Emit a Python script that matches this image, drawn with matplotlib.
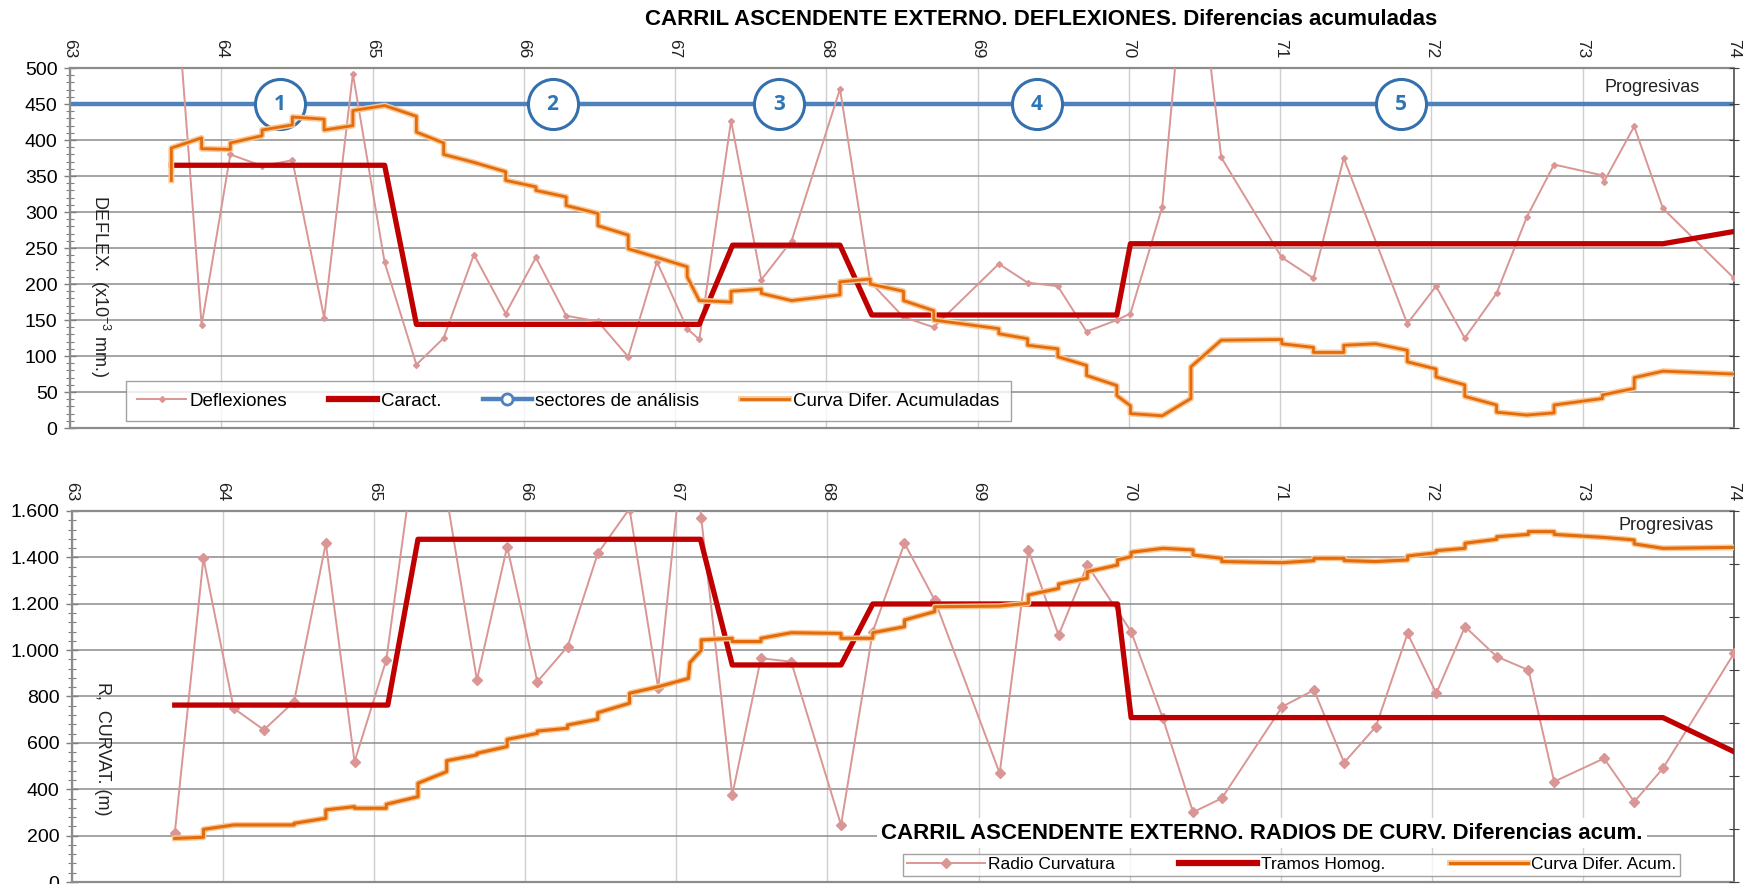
import matplotlib
matplotlib.use("Agg")
import matplotlib.pyplot as plt
import matplotlib.patheffects as pe
from matplotlib.lines import Line2D
from matplotlib.ticker import AutoMinorLocator, FuncFormatter

plt.rcParams['font.family'] = ['Liberation Sans', 'DejaVu Sans']
plt.rcParams['mathtext.fontset'] = 'custom'
plt.rcParams['mathtext.rm'] = 'Liberation Sans'

# ---------------- data: deflexiones (upper chart) ----------------
defl_km = [63.67, 63.87, 64.06, 64.27, 64.47, 64.68, 64.87, 65.08, 65.29, 65.47,
           65.67, 65.88, 66.08, 66.28, 66.49, 66.69, 66.88, 67.08, 67.16, 67.37,
           67.57, 67.77, 68.09, 68.29, 68.51, 68.71, 69.14, 69.33, 69.53, 69.72,
           69.92, 70.01, 70.22, 70.41, 70.61, 71.01, 71.22, 71.42, 71.84, 72.03,
           72.22, 72.43, 72.63, 72.81, 73.13, 73.14, 73.34, 73.53, 74.0]
defl_val = [700, 143, 380, 364, 372, 153, 492, 230, 88, 125,
            241, 159, 237, 156, 148, 99, 231, 138, 123, 427,
            206, 260, 471, 203, 154, 140, 228, 202, 197, 134,
            150, 159, 307, 740, 376, 237, 208, 375, 145, 197,
            125, 187, 293, 366, 351, 342, 419, 305, 208]

caract_km = [63.67, 65.08, 65.29, 67.16, 67.38, 68.09, 68.30, 69.92, 70.01, 73.53, 74.0]
caract_val = [365, 365, 144, 144, 254, 254, 157, 157, 256, 256, 273]

cda_km = [63.67, 63.67, 63.87, 63.87, 64.06, 64.06, 64.27, 64.27, 64.47, 64.47,
          64.68, 64.68, 64.87, 64.87, 65.08, 65.29, 65.29, 65.47, 65.47, 65.67,
          65.88, 65.88, 66.08, 66.08, 66.28, 66.28, 66.49, 66.49, 66.69, 66.69,
          66.88, 67.08, 67.08, 67.16, 67.37, 67.37, 67.57, 67.57, 67.77, 68.09,
          68.09, 68.29, 68.29, 68.51, 68.51, 68.71, 68.71, 69.14, 69.14, 69.33,
          69.33, 69.53, 69.53, 69.72, 69.72, 69.92, 69.92, 70.01, 70.01, 70.22,
          70.41, 70.41, 70.61, 71.01, 71.01, 71.22, 71.22, 71.42, 71.42, 71.63,
          71.84, 71.84, 72.03, 72.03, 72.22, 72.22, 72.43, 72.43, 72.63, 72.81,
          72.81, 73.13, 73.13, 73.34, 73.34, 73.53, 74.0]
cda_val = [344, 389, 403, 388, 387, 396, 406, 414, 421, 432,
           429, 414, 420, 441, 448, 433, 411, 396, 380, 369,
           356, 344, 335, 330, 321, 309, 298, 281, 268, 249,
           237, 224, 210, 177, 175, 190, 193, 187, 177, 185,
           203, 207, 200, 190, 177, 163, 150, 138, 131, 124,
           115, 110, 99, 87, 73, 59, 45, 31, 20, 17,
           41, 85, 122, 123, 117, 112, 105, 105, 115, 117,
           108, 92, 82, 71, 60, 44, 32, 22, 18, 21,
           32, 41, 46, 55, 70, 79, 75]

sector_km = [64.39, 66.19, 67.69, 69.39, 71.80]
sector_lbl = ['1', '2', '3', '4', '5']
sector_level = 450

# ---------------- data: radios de curvatura (lower chart) ----------------
rad_km = [63.68, 63.87, 64.07, 64.27, 64.47, 64.68, 64.87, 65.08, 65.29, 65.47,
          65.68, 65.88, 66.08, 66.28, 66.48, 66.69, 66.88, 67.08, 67.165, 67.37,
          67.56, 67.76, 68.09, 68.30, 68.51, 68.71, 69.14, 69.33, 69.53, 69.72,
          70.01, 70.22, 70.42, 70.61, 71.01, 71.22, 71.42, 71.63, 71.84, 72.03,
          72.22, 72.43, 72.64, 72.81, 73.14, 73.34, 73.53, 74.0]
rad_val = [210, 1396, 749, 656, 778, 1461, 519, 957, 1960, 1700,
           871, 1446, 864, 1015, 1417, 1610, 835, 2100, 1568, 375,
           965, 950, 246, 1080, 1461, 1216, 469, 1432, 1065, 1367,
           1080, 706, 301, 361, 756, 828, 515, 670, 1072, 814,
           1101, 972, 914, 433, 533, 346, 490, 986]

tramos_km = [63.68, 65.09, 65.29, 67.16, 67.37, 68.09, 68.30, 69.92, 70.01, 73.53, 74.0]
tramos_val = [763, 763, 1478, 1478, 936, 936, 1199, 1199, 709, 709, 562]

cdr_km = [63.68, 63.87, 63.87, 64.07, 64.47, 64.47, 64.68, 64.68, 64.87, 64.87,
          65.08, 65.08, 65.29, 65.29, 65.48, 65.48, 65.68, 65.68, 65.88, 65.88,
          66.08, 66.08, 66.28, 66.28, 66.48, 66.48, 66.69, 66.69, 66.88, 67.08,
          67.09, 67.165, 67.165, 67.37, 67.37, 67.56, 67.56, 67.76, 68.09, 68.09,
          68.30, 68.30, 68.51, 68.51, 68.71, 68.71, 69.14, 69.33, 69.33, 69.53,
          69.53, 69.72, 69.72, 69.92, 69.92, 70.01, 70.01, 70.22, 70.42, 70.42,
          70.61, 70.61, 71.01, 71.22, 71.22, 71.42, 71.42, 71.63, 71.84, 71.84,
          72.03, 72.03, 72.22, 72.22, 72.43, 72.43, 72.64, 72.64, 72.81, 72.81,
          73.14, 73.34, 73.34, 73.53, 74.0]
cdr_val = [188, 193, 227, 246, 246, 253, 275, 311, 325, 318,
           318, 335, 368, 426, 476, 523, 548, 555, 584, 615,
           641, 651, 663, 677, 702, 730, 771, 814, 842, 878,
           946, 1000, 1044, 1051, 1037, 1037, 1051, 1075, 1072, 1051,
           1051, 1075, 1101, 1130, 1166, 1187, 1190, 1202, 1238, 1266,
           1285, 1310, 1338, 1367, 1389, 1403, 1422, 1439, 1432, 1410,
           1396, 1382, 1377, 1386, 1396, 1396, 1386, 1382, 1389, 1406,
           1420, 1429, 1439, 1461, 1478, 1489, 1499, 1511, 1511, 1499,
           1486, 1475, 1458, 1439, 1443]

km_ticks = list(range(63, 75))

PINK = '#D99694'
RED = '#C00000'
BLUE = '#4F81BD'
ORANGE = '#E46C0A'
GLOW = [pe.Stroke(linewidth=4.2, foreground='#FAC796'), pe.Normal()]


def style_axes(ax, ymax, ystep):
    ax.set_xlim(63, 74)
    ax.set_ylim(0, ymax)
    ax.set_xticks(km_ticks)
    ax.xaxis.tick_top()
    ax.tick_params(axis='x', length=0, pad=7, labelsize=12.5, labelrotation=-90,
                   colors='#222222')
    ax.set_yticks(range(0, ymax + 1, ystep))
    ax.yaxis.set_minor_locator(AutoMinorLocator(5))
    ax.tick_params(axis='y', which='major', direction='inout', length=8,
                   width=1, color='#7f7f7f', labelsize=14, pad=5)
    ax.tick_params(axis='y', which='minor', direction='inout', length=6,
                   width=0.8, color='#7f7f7f')
    ax.grid(axis='y', which='major', color='#8c8c8c', lw=1.1)
    ax.grid(axis='x', which='major', color='#cfcfcf', lw=1)
    ax.set_axisbelow(True)
    for s in ['top', 'bottom', 'left']:
        ax.spines[s].set_color('#8c8c8c')
        ax.spines[s].set_linewidth(1.6)
    ax.spines['right'].set_color('#404040')
    ax.spines['right'].set_linewidth(1.1)


fig = plt.figure(figsize=(17.52, 8.84), dpi=100)

# ================= upper chart =================
ax1 = fig.add_axes([0.03995, 0.5158, 0.9498, 0.4072])
style_axes(ax1, 500, 50)

ax1.plot(defl_km, defl_val, color=PINK, lw=1.4, marker='D', ms=3, zorder=3,
         label='Deflexiones')
ax1.plot(caract_km, caract_val, color=RED, lw=3.8, zorder=4, label='Caract.')
ax1.plot([63, 74], [sector_level, sector_level], color=BLUE, lw=3.2, zorder=2)
ax1.scatter(sector_km, [sector_level] * len(sector_km), s=1300, facecolor='white',
            edgecolor='#3470AE', linewidth=2.2, zorder=2.5)
for k, t in zip(sector_km, sector_lbl):
    ax1.text(k, sector_level, t, ha='center', va='center', fontsize=15,
             fontweight='bold', color='#2E75B6', family='Open Sans', zorder=2.6)
ax1.plot(cda_km, cda_val, color=ORANGE, lw=2, zorder=5, path_effects=GLOW,
         label='Curva Difer. Acumuladas')

ax1.text(0.011, 0.394, 'DEFLEX.  (x10$^{\\mathregular{-3}}$ mm.)', transform=ax1.transAxes,
         rotation=-90, ha='left', va='center', fontsize=13, color='#222222')
ax1.text(0.951, 0.947, 'Progresivas', transform=ax1.transAxes, ha='center',
         va='center', fontsize=13, color='#222222')

sec_handle = Line2D([], [], color=BLUE, lw=3.2, marker='o', ms=8,
                    mfc='white', mec=BLUE, mew=2)
h1 = [Line2D([], [], color=PINK, lw=1.4, marker='D', ms=3),
      Line2D([], [], color=RED, lw=4.5),
      sec_handle,
      Line2D([], [], color=ORANGE, lw=2, path_effects=GLOW)]
lab1 = ['Deflexiones', 'Caract.', 'sectores de análisis', 'Curva Difer. Acumuladas']
leg1 = ax1.legend(h1, lab1, loc='center', bbox_to_anchor=(0.2995, 0.075), ncol=4,
                  fontsize=13.5, frameon=True, fancybox=False, edgecolor='#8c8c8c',
                  handlelength=2.6, columnspacing=2.2, handletextpad=0.2,
                  borderpad=0.6)
leg1.get_frame().set_linewidth(1)
leg1.set_zorder(10)

r1 = ax1.twinx()
r1.set_ylim(0, 500)
r1.set_yticks(range(0, 501, 50))
r1.tick_params(axis='y', direction='inout', length=7, color='#404040', labelright=False)
for s in r1.spines.values():
    s.set_visible(False)

fig.text(0.594, 0.9785, 'CARRIL ASCENDENTE EXTERNO. DEFLEXIONES. Diferencias acumuladas',
         ha='center', va='center', fontsize=16, fontweight='bold')

# ================= lower chart =================
ax2 = fig.add_axes([0.0411, 0.00226, 0.9486, 0.4197])
style_axes(ax2, 1600, 200)
ax2.yaxis.set_major_formatter(FuncFormatter(lambda v, p: '{:,.0f}'.format(v).replace(',', '.')))

ax2.plot(rad_km, rad_val, color=PINK, lw=1.4, marker='D', ms=5, zorder=3)
ax2.plot(tramos_km, tramos_val, color=RED, lw=3.8, zorder=4)
ax2.plot(cdr_km, cdr_val, color=ORANGE, lw=2.2, zorder=5, path_effects=GLOW)

ax2.text(0.013, 0.358, 'R,  CURVAT. (m)', transform=ax2.transAxes, rotation=-90,
         ha='left', va='center', fontsize=13, color='#222222')
ax2.text(0.959, 0.962, 'Progresivas', transform=ax2.transAxes, ha='center',
         va='center', fontsize=13, color='#222222')
ax2.text(0.716, 0.132, 'CARRIL ASCENDENTE EXTERNO. RADIOS DE CURV. Diferencias acum.',
         transform=ax2.transAxes, ha='center', va='center', fontsize=16,
         fontweight='bold', zorder=9,
         bbox=dict(facecolor='white', edgecolor='none', pad=3))

h2 = [Line2D([], [], color=PINK, lw=1.4, marker='D', ms=5),
      Line2D([], [], color=RED, lw=4.5),
      Line2D([], [], color=ORANGE, lw=2.2, path_effects=GLOW)]
lab2 = ['Radio Curvatura', 'Tramos Homog.', 'Curva Difer. Acum.']
leg2 = ax2.legend(h2, lab2, loc='center', bbox_to_anchor=(0.7338, 0.047), ncol=3,
                  fontsize=12.5, frameon=True, fancybox=False, edgecolor='#8c8c8c',
                  handlelength=4.5, columnspacing=3.7, handletextpad=0.2,
                  borderpad=0.2)
leg2.get_frame().set_linewidth(1)
leg2.set_zorder(10)

r2 = ax2.twinx()
r2.set_ylim(0, 7)
r2.set_yticks(range(0, 8))
r2.tick_params(axis='y', direction='inout', length=7, color='#404040', labelright=False)
for s in r2.spines.values():
    s.set_visible(False)

plt.savefig('out.png', dpi=100)
